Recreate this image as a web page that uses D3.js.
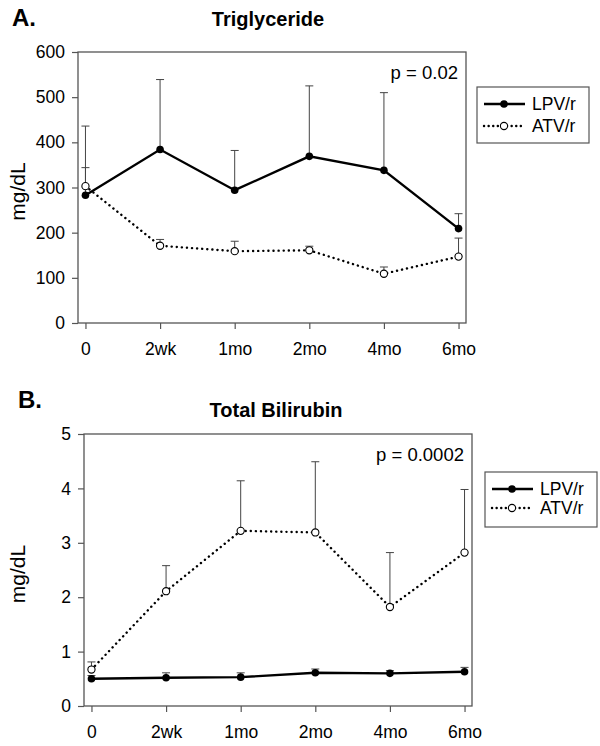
<!DOCTYPE html>
<html>
<head>
<meta charset="utf-8">
<script src="https://cdn.jsdelivr.net/npm/d3@7"></script>
<style>
  body { margin: 0; background: #fff; }
  svg { font-family: "Liberation Sans", Arial, sans-serif; }
</style>
</head>
<body>
<div id="chart"></div>
<script>
// time points
const timepoints = ['0', '2wk', '1mo', '2mo', '4mo', '6mo']

// A. triglyceride (mg/dL), mean and upper error bar
const tgLpv = [283, 384, 294, 369, 338, 209]
const tgLpvHi = [436, 539, 382, 525, 510, 242]
const tgAtv = [303, 171, 159, 161, 109, 147]
const tgAtvHi = [344, 185, 181, 170, 124, 188]
const tgTicks = [0, 100, 200, 300, 400, 500, 600]

// B. total bilirubin (mg/dL)
const biLpv = [0.50, 0.52, 0.53, 0.61, 0.60, 0.63]
const biLpvHi = [0.56, 0.61, 0.61, 0.68, 0.65, 0.71]
const biAtv = [0.67, 2.11, 3.22, 3.19, 1.82, 2.82]
const biAtvHi = [0.81, 2.58, 4.14, 4.49, 2.82, 3.98]
const biTicks = [0, 1, 2, 3, 4, 5]

const seriesNames = ['LPV/r', 'ATV/r']

const width = 600
const height = 746

const svg = d3.select('#chart').append('svg')
    .attr('width', width)
    .attr('height', height)

const panels = [
    {
        letter: 'A.', title: 'Triglyceride', p: 'p = 0.02',
        lpv: tgLpv, lpvHi: tgLpvHi, atv: tgAtv, atvHi: tgAtvHi,
        ticks: tgTicks, ymax: 600,
        left: 78, top: 52, right: 466, bottom: 323,
        letterX: 12, letterY: 26, titleX: 268, titleY: 26,
        legend: { x: 477, y: 87, w: 112, h: 56, row1: 104, row2: 126 }
    },
    {
        letter: 'B.', title: 'Total Bilirubin', p: 'p = 0.0002',
        lpv: biLpv, lpvHi: biLpvHi, atv: biAtv, atvHi: biAtvHi,
        ticks: biTicks, ymax: 5,
        left: 84, top: 434, right: 472, bottom: 706,
        letterX: 18, letterY: 408, titleX: 276, titleY: 417,
        legend: { x: 485, y: 472, w: 112, h: 55, row1: 489, row2: 508 }
    }
]

panels.forEach((pn) => {
    const g = svg.append('g')

    const x = d3.scaleLinear().domain([-0.1, 5.1]).range([pn.left, pn.right])
    const y = d3.scaleLinear().domain([0, pn.ymax]).range([pn.bottom, pn.top])

    // letter + title
    g.append('text')
        .attr('x', pn.letterX).attr('y', pn.letterY)
        .attr('font-size', 24).attr('font-weight', 'bold')
        .text(pn.letter)
    g.append('text')
        .attr('x', pn.titleX).attr('y', pn.titleY)
        .attr('text-anchor', 'middle')
        .attr('font-size', 20).attr('font-weight', 'bold')
        .text(pn.title)

    // axes
    const yAxis = d3.axisLeft(y).tickValues(pn.ticks).tickSize(6).tickPadding(7)
        .tickFormat(d3.format('d'))
    const xAxis = d3.axisBottom(x).tickValues(d3.range(timepoints.length))
        .tickFormat((i) => timepoints[i]).tickSize(6).tickPadding(14)

    const ya = g.append('g').attr('transform', 'translate(' + pn.left + ',0)').call(yAxis)
    const xa = g.append('g').attr('transform', 'translate(0,' + pn.bottom + ')').call(xAxis)
    ;[ya, xa].forEach((a) => {
        a.attr('font-size', null).attr('font-family', null)
        a.select('.domain').remove()
        a.selectAll('line').attr('stroke', '#555').attr('stroke-width', 1.2)
        a.selectAll('text').attr('font-size', 17.5).attr('fill', '#000')
    })

    // frame
    g.append('rect')
        .attr('x', pn.left).attr('y', pn.top)
        .attr('width', pn.right - pn.left).attr('height', pn.bottom - pn.top)
        .attr('fill', 'none').attr('stroke', '#555').attr('stroke-width', 1.3)

    // y label
    g.append('text')
        .attr('transform', 'translate(' + 25 + ',' + ((pn.top + pn.bottom) / 2 + 4) + ') rotate(-90)')
        .attr('text-anchor', 'middle')
        .attr('font-size', 21)
        .text('mg/dL')

    // p value
    g.append('text')
        .attr('x', pn.right - 8).attr('y', pn.top + 27)
        .attr('text-anchor', 'end')
        .attr('font-size', 18.5)
        .text(pn.p)

    // error bars
    const errs = []
    pn.lpv.forEach((v, i) => errs.push({ i: i, lo: v, hi: pn.lpvHi[i] }))
    pn.atv.forEach((v, i) => errs.push({ i: i, lo: v, hi: pn.atvHi[i] }))
    const eb = g.append('g').selectAll('g').data(errs).enter().append('g')
    eb.append('line')
        .attr('x1', (d) => x(d.i)).attr('x2', (d) => x(d.i))
        .attr('y1', (d) => y(d.lo)).attr('y2', (d) => y(d.hi))
        .attr('stroke', '#444').attr('stroke-width', 1)
    eb.append('line')
        .attr('x1', (d) => x(d.i) - 4).attr('x2', (d) => x(d.i) + 4)
        .attr('y1', (d) => y(d.hi)).attr('y2', (d) => y(d.hi))
        .attr('stroke', '#444').attr('stroke-width', 1)

    const line = d3.line().x((d, i) => x(i)).y((d) => y(d))

    // ATV/r dotted
    g.append('path').datum(pn.atv)
        .attr('d', line)
        .attr('fill', 'none').attr('stroke', '#000')
        .attr('stroke-width', 2.4).attr('stroke-linecap', 'round')
        .attr('stroke-dasharray', '0.1,5')
    // LPV/r solid
    g.append('path').datum(pn.lpv)
        .attr('d', line)
        .attr('fill', 'none').attr('stroke', '#000')
        .attr('stroke-width', 2.4)

    g.append('g').selectAll('circle').data(pn.atv).enter().append('circle')
        .attr('cx', (d, i) => x(i)).attr('cy', (d) => y(d)).attr('r', 3.6)
        .attr('fill', '#fff').attr('stroke', '#000').attr('stroke-width', 1.1)
    g.append('g').selectAll('circle').data(pn.lpv).enter().append('circle')
        .attr('cx', (d, i) => x(i)).attr('cy', (d) => y(d)).attr('r', 3.8)
        .attr('fill', '#000')

    // legend
    const lg = pn.legend
    g.append('rect')
        .attr('x', lg.x).attr('y', lg.y).attr('width', lg.w).attr('height', lg.h)
        .attr('fill', '#fff').attr('stroke', '#555').attr('stroke-width', 1.2)
    const rows = [lg.row1, lg.row2]
    seriesNames.forEach((name, k) => {
        const ry = rows[k]
        g.append('line')
            .attr('x1', lg.x + 7).attr('x2', lg.x + 48)
            .attr('y1', ry).attr('y2', ry)
            .attr('stroke', '#000').attr('stroke-width', 2.4)
            .attr('stroke-linecap', k ? 'round' : 'butt')
            .attr('stroke-dasharray', k ? '0.1,4.5' : null)
        g.append('circle')
            .attr('cx', lg.x + 27).attr('cy', ry).attr('r', k ? 3.6 : 3.8)
            .attr('fill', k ? '#fff' : '#000')
            .attr('stroke', '#000').attr('stroke-width', k ? 1.1 : 0)
        g.append('text')
            .attr('x', lg.x + 55).attr('y', ry + 6)
            .attr('font-size', 17.5)
            .text(name)
    })
})
</script>
</body>
</html>
